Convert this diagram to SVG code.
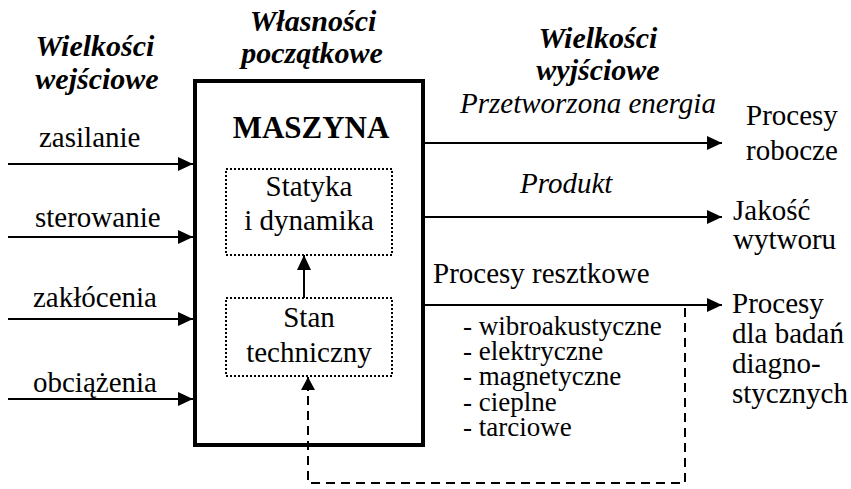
<svg xmlns="http://www.w3.org/2000/svg" width="851" height="489" viewBox="0 0 851 489" font-family="'Liberation Serif', serif">
  <style>
    .t { font-family: 'Liberation Serif', 'Times New Roman', serif; fill: #000; }
    .lbl { font-size: 29px; }
    .title { font-size: 30px; font-weight: bold; font-style: italic; text-anchor: middle; }
    .ital { font-size: 29px; font-style: italic; }
    .item { font-size: 27px; }
    .mid { text-anchor: middle; }
    .line { stroke: #000; stroke-width: 2; fill: none; }
    .dash { stroke: #000; stroke-width: 2; fill: none; stroke-dasharray: 9 6; }
    .dotted { stroke: #000; stroke-width: 2; fill: none; stroke-dasharray: 2 2; }
  </style>
  <defs>
    <marker id="head" viewBox="0 0 15 14" refX="15" refY="7" markerWidth="15" markerHeight="14" markerUnits="userSpaceOnUse" orient="auto">
      <path d="M0,0 L15,7 L0,14 Z" fill="#000"/>
    </marker>
    <marker id="headSmall" viewBox="0 0 13 14" refX="13" refY="7" markerWidth="13" markerHeight="14" markerUnits="userSpaceOnUse" orient="auto">
      <path d="M0,0 L13,7 L0,14 Z" fill="#000"/>
    </marker>
  </defs>

  <rect width="851" height="489" fill="#fff"/>

  <!-- column headings -->
  <g id="headings">
    <text class="t title" x="95" y="56">Wielkości</text>
    <text class="t title" x="97" y="89">wejściowe</text>
    <text class="t title" x="313" y="31">Własności</text>
    <text class="t title" x="312" y="63">początkowe</text>
    <text class="t title" x="598" y="48">Wielkości</text>
    <text class="t title" x="598" y="80">wyjściowe</text>
  </g>

  <!-- machine block -->
  <g id="machine">
    <rect x="195" y="81" width="228" height="364" fill="none" stroke="#000" stroke-width="4"/>
    <text class="t mid" x="311" y="138" font-size="31" font-weight="bold">MASZYNA</text>
  </g>

  <g id="statics">
    <rect class="dotted" x="226" y="169" width="166" height="86"/>
    <text class="t lbl mid" x="309" y="196">Statyka</text>
    <text class="t lbl mid" x="309" y="230">i dynamika</text>
  </g>

  <g id="condition">
    <rect class="dotted" x="226" y="298" width="166" height="78"/>
    <text class="t lbl mid" x="309" y="327">Stan</text>
    <text class="t lbl mid" x="309" y="362">techniczny</text>
  </g>

  <!-- inputs -->
  <g id="inputs">
    <text class="t lbl" x="39" y="147">zasilanie</text>
    <text class="t lbl" x="35" y="227">sterowanie</text>
    <text class="t lbl" x="33" y="307">zakłócenia</text>
    <text class="t lbl" x="33" y="392">obciążenia</text>
  </g>

  <!-- outputs -->
  <g id="outputs">
    <text class="t ital" x="460" y="113">Przetworzona energia</text>
    <text class="t ital" x="520" y="193">Produkt</text>
    <text class="t lbl" x="433" y="283">Procesy resztkowe</text>
    <text class="t item" x="463" y="335">- wibroakustyczne</text>
    <text class="t item" x="463" y="360">- elektryczne</text>
    <text class="t item" x="463" y="385">- magnetyczne</text>
    <text class="t item" x="463" y="411">- cieplne</text>
    <text class="t item" x="463" y="436">- tarciowe</text>
  </g>

  <g id="targets">
    <text class="t lbl" x="746" y="125">Procesy</text>
    <text class="t lbl" x="746" y="160">robocze</text>
    <text class="t lbl" x="733" y="220">Jakość</text>
    <text class="t lbl" x="733" y="249">wytworu</text>
    <text class="t lbl" x="732" y="313">Procesy</text>
    <text class="t lbl" x="732" y="343">dla badań</text>
    <text class="t lbl" x="732" y="373">diagno-</text>
    <text class="t lbl" x="732" y="403">stycznych</text>
  </g>

  <!-- connectors -->
  <g id="connectors">
    <line class="line" x1="8" y1="164" x2="193" y2="164" marker-end="url(#head)"/>
    <line class="line" x1="8" y1="237" x2="193" y2="237" marker-end="url(#head)"/>
    <line class="line" x1="8" y1="319" x2="193" y2="319" marker-end="url(#head)"/>
    <line class="line" x1="8" y1="399" x2="193" y2="399" marker-end="url(#head)"/>

    <line class="line" x1="425" y1="143" x2="722" y2="143" marker-end="url(#head)"/>
    <line class="line" x1="425" y1="217" x2="722" y2="217" marker-end="url(#head)"/>
    <line class="line" x1="425" y1="305" x2="722" y2="305" marker-end="url(#head)"/>

    <line class="line" x1="304" y1="298" x2="304" y2="255" marker-end="url(#head)"/>

    <path class="dash" d="M685,308 V483 H308 V390"/>
    <line class="line" x1="308" y1="391" x2="308" y2="377" marker-end="url(#headSmall)"/>
  </g>
</svg>
